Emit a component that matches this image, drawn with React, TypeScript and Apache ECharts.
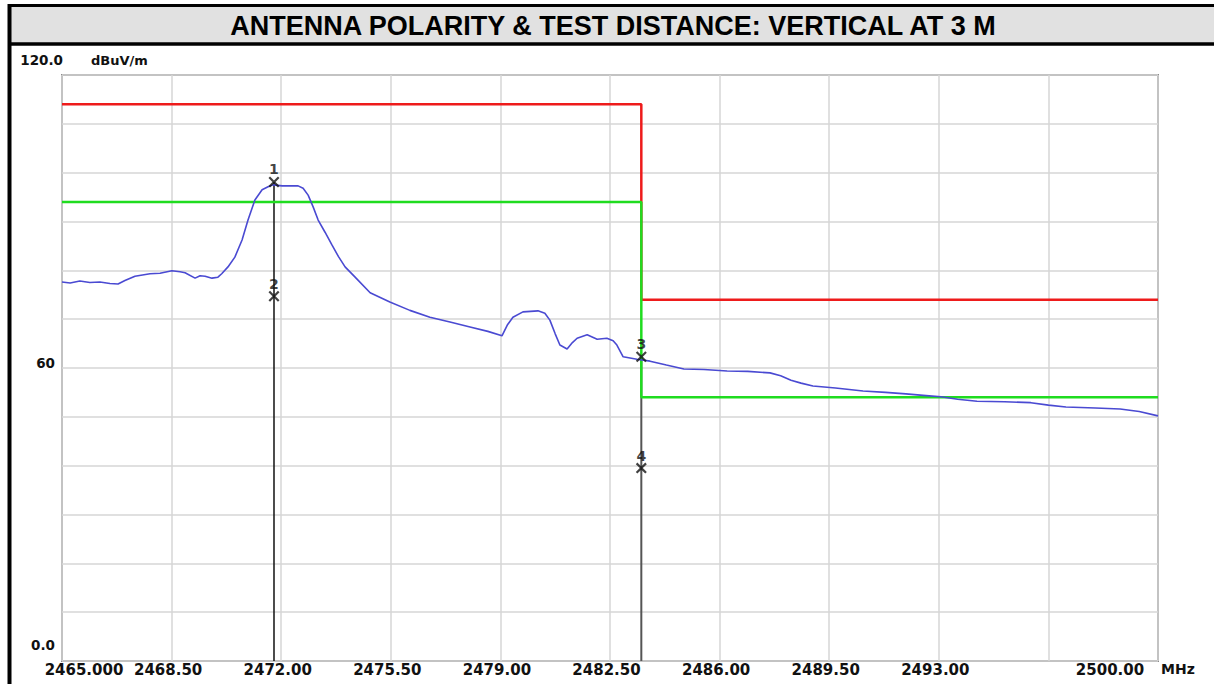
import React, { useEffect, useRef } from 'react';
import * as echarts from 'echarts';

const TITLE = 'ANTENNA POLARITY & TEST DISTANCE: VERTICAL AT 3 M';
const Y_UNIT = 'dBuV/m';
const X_UNIT = 'MHz';

const X_MIN = 2465;
const X_MAX = 2500;
const X_STEP = 3.5;
const Y_MIN = 0;
const Y_MAX = 120;
const Y_STEP = 10;

const xTickValues = [2465, 2468.5, 2472, 2475.5, 2479, 2482.5, 2486, 2489.5, 2493, 2496.5, 2500];
const xTickLabels = ['2465.000', '2468.50', '2472.00', '2475.50', '2479.00', '2482.50', '2486.00', '2489.50', '2493.00', '', '2500.00'];
const yTickValues = [0, 60, 120];
const yTickLabels = ['0.0', '60', '120.0'];

// measured trace (frequency in MHz, level in dBuV/m)
const traceFreq = [
  2465.0, 2465.26, 2465.57, 2465.89, 2466.21, 2466.53, 2466.79, 2467.01, 2467.33, 2467.81,
  2468.13, 2468.51, 2468.77, 2468.93, 2469.25, 2469.41, 2469.57, 2469.79, 2469.98, 2470.1,
  2470.3, 2470.52, 2470.75, 2470.94, 2471.16, 2471.39, 2471.58, 2471.74, 2472.03, 2472.54,
  2472.7, 2472.86, 2473.02, 2473.18, 2473.4, 2473.62, 2473.83, 2474.04, 2474.36, 2474.84,
  2475.47, 2476.11, 2476.75, 2477.39, 2478.03, 2478.6, 2479.05, 2479.22, 2479.4, 2479.72,
  2480.2, 2480.42, 2480.58, 2480.75, 2480.9, 2481.13, 2481.3, 2481.45, 2481.77, 2482.09,
  2482.4, 2482.6, 2482.72, 2482.92, 2483.36, 2483.78, 2484.3, 2484.86, 2485.5, 2486.24,
  2486.9, 2487.61, 2487.95, 2488.28, 2488.6, 2488.98, 2489.7, 2490.58, 2491.3, 2491.95,
  2492.5, 2493.07, 2493.6, 2494.22, 2495.1, 2495.94, 2496.5, 2497.06, 2498.0, 2498.79,
  2499.4, 2500.0,
];
const traceLevel = [
  77.6, 77.4, 77.8, 77.5, 77.6, 77.3, 77.2, 77.9, 78.8, 79.3,
  79.4, 79.9, 79.7, 79.5, 78.4, 78.9, 78.8, 78.4, 78.6, 79.3,
  80.7, 82.7, 86.2, 90.3, 94.4, 96.5, 97.1, 97.5, 97.3, 97.3,
  96.8, 95.4, 93.0, 90.3, 87.8, 85.2, 82.8, 80.7, 78.6, 75.4,
  73.5, 71.8, 70.4, 69.4, 68.4, 67.5, 66.6, 68.8, 70.4, 71.5,
  71.7, 71.2, 69.8, 67.0, 64.7, 63.9, 65.2, 66.1, 66.8, 65.9,
  66.1, 65.6, 64.7, 62.3, 61.8, 61.4, 60.6, 59.8, 59.7, 59.4,
  59.3, 59.0, 58.4, 57.5, 56.9, 56.3, 55.9, 55.3, 55.0, 54.7,
  54.4, 54.1, 53.6, 53.2, 53.1, 52.9, 52.4, 52.0, 51.8, 51.6,
  51.1, 50.2,
];

// limit lines
const peakLimitFreq = [2465, 2483.5, 2483.5, 2500];
const peakLimitLevel = [114, 114, 74, 74];
const avgLimitFreq = [2465, 2483.5, 2483.5, 2500];
const avgLimitLevel = [94, 94, 54, 54];

// markers
const markerNames = ['1', '2', '3', '4'];
const markerFreq = [2471.77, 2471.77, 2483.5, 2483.5];
const markerLevel = [98.1, 74.7, 62.3, 39.5];

const zip = (xs: number[], ys: number[]) => xs.map((x, i) => [x, ys[i]]);

const X_SYMBOL = 'path://M0,1.4L1.4,0L5,3.6L8.6,0L10,1.4L6.4,5L10,8.6L8.6,10L5,6.4L1.4,10L0,8.6L3.6,5Z';

export default function App() {
  const ref = useRef<HTMLDivElement>(null);
  useEffect(() => {
    if (!ref.current) return;
    const chart = echarts.init(ref.current, undefined, { renderer: 'svg' });
    const labelFont = { fontFamily: 'DejaVu Sans', fontWeight: 'bold' as const, fontSize: 15, color: '#111' };
    const yFont = { ...labelFont, fontSize: 13.5 };

    const markerLine1 = [[markerFreq[0], markerLevel[0]], [markerFreq[0], Y_MIN]];
    const markerLine2 = [[markerFreq[2], markerLevel[2]], [markerFreq[2], Y_MIN]];

    chart.setOption({
      animation: false,
      backgroundColor: '#ffffff',
      grid: {
        left: 62, top: 75, right: 56, bottom: 23,
        show: true, borderColor: '#8a8a8a', borderWidth: 2,
        outerBoundsMode: 'none',
      },
      graphic: [
        { type: 'rect', shape: { x: 8, y: 5, width: 1206, height: 40 }, style: { fill: '#e1e1e1' }, z: 0 },
        { type: 'line', shape: { x1: 8, y1: 5.5, x2: 1214, y2: 5.5 }, style: { stroke: '#000', lineWidth: 3 } },
        { type: 'line', shape: { x1: 8, y1: 44, x2: 1214, y2: 44 }, style: { stroke: '#000', lineWidth: 3.5 } },
        { type: 'line', shape: { x1: 9.5, y1: 4, x2: 9.5, y2: 684 }, style: { stroke: '#000', lineWidth: 4 } },
        {
          type: 'text', x: 613, y: 26,
          style: {
            text: TITLE, fill: '#000', fontFamily: 'Liberation Sans, Arial', fontWeight: 'bold',
            fontSize: 27, align: 'center', verticalAlign: 'middle',
          },
        },
      ],
      xAxis: {
        type: 'value', min: X_MIN, max: X_MAX, interval: X_STEP,
        name: X_UNIT, nameLocation: 'end', nameGap: 3,
        nameTextStyle: { ...labelFont, fontSize: 14, align: 'left', verticalAlign: 'top', padding: [1, 0, 0, 0] },
        axisLine: { show: false }, axisTick: { show: false },
        splitLine: { show: true, lineStyle: { color: '#d6d6d6', width: 1.5 } },
        axisLabel: {
          margin: 1, showMinLabel: true, showMaxLabel: true, ...labelFont,
          formatter: (v: number) => {
            const i = xTickValues.findIndex((t) => Math.abs(t - v) < 1e-6);
            if (i < 0 || !xTickLabels[i]) return '';
            const key = i === 0 ? 'first' : i === xTickValues.length - 1 ? 'last' : 'mid';
            return `{${key}|${xTickLabels[i]}}`;
          },
          rich: {
            first: { ...labelFont, padding: [0, 0, 0, 44] },
            mid: { ...labelFont, padding: [0, 7, 0, 0] },
            last: { ...labelFont, padding: [0, 96, 0, 0] },
          },
        },
      },
      yAxis: {
        type: 'value', min: Y_MIN, max: Y_MAX, interval: Y_STEP,
        name: Y_UNIT, nameLocation: 'end', nameGap: 15,
        nameTextStyle: { ...labelFont, fontSize: 13, align: 'left', verticalAlign: 'middle', padding: [0, 0, 0, 29] },
        axisLine: { show: false }, axisTick: { show: false },
        splitLine: { show: true, lineStyle: { color: '#d6d6d6', width: 1.5 } },
        axisLabel: {
          margin: -1, showMinLabel: true, showMaxLabel: true, ...yFont,
          formatter: (v: number) => {
            const i = yTickValues.indexOf(v);
            if (i < 0) return '';
            const key = v === Y_MAX ? 'top' : v === Y_MIN ? 'bot' : 'mid';
            return `{${key}|${yTickLabels[i]}}`;
          },
          rich: {
            top: { ...yFont, padding: [0, 0, 30, 0] },
            mid: { ...yFont, padding: [0, 8, 10, 0] },
            bot: { ...yFont, padding: [0, 8, 32, 0] },
          },
        },
      },
      series: [
        {
          type: 'line', data: markerLine1, symbol: 'none', z: 1,
          lineStyle: { color: '#111', width: 1.5 },
        },
        {
          type: 'line', data: markerLine2, symbol: 'none', z: 1,
          lineStyle: { color: '#555', width: 2 },
        },
        {
          type: 'line', data: zip(peakLimitFreq, peakLimitLevel), symbol: 'none', z: 2,
          lineStyle: { color: '#ee1b1b', width: 2.5 },
        },
        {
          type: 'line', data: zip(avgLimitFreq, avgLimitLevel), symbol: 'none', z: 3,
          lineStyle: { color: '#1fdc1f', width: 2.5 },
        },
        {
          type: 'line', data: zip(traceFreq, traceLevel), symbol: 'none', z: 4,
          lineStyle: { color: '#4a4ad2', width: 1.6 },
        },
        {
          type: 'scatter', z: 5,
          data: markerFreq.map((f, i) => ({ value: [f, markerLevel[i]], name: markerNames[i] })),
          symbol: X_SYMBOL, symbolSize: 11,
          itemStyle: { color: '#111' },
          label: {
            show: true, position: 'top', distance: 0,
            formatter: (p: any) => p.name,
            fontFamily: 'DejaVu Sans', fontSize: 14, fontWeight: 'bold', color: '#111',
          },
        },
      ],
    });
    return () => chart.dispose();
  }, []);
  return (
    <div
      ref={ref}
      style={{ position: 'absolute', left: 0, top: 0, width: 1214, height: 684, background: '#fff' }}
    />
  );
}
